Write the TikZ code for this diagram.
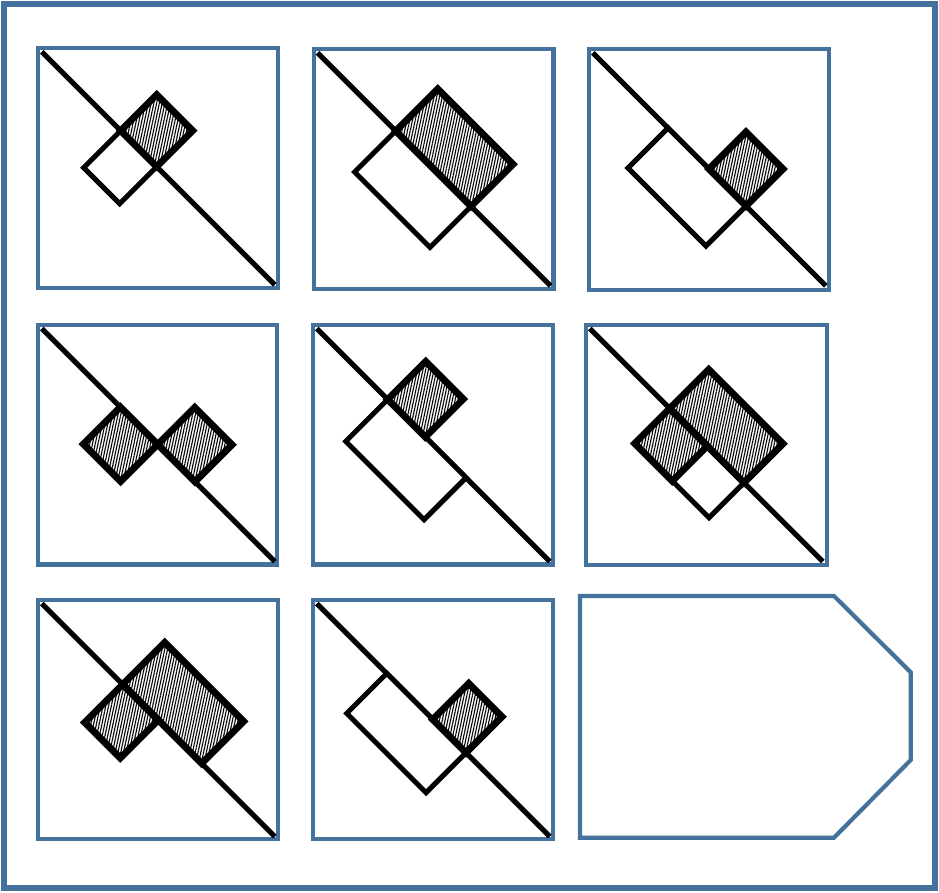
\documentclass[tikz,border=0pt]{standalone}
\usetikzlibrary{patterns.meta}
\definecolor{frameblue}{RGB}{68,114,157}
\tikzset{
  cellbox/.style={draw=frameblue,line width=4.2pt},
  diagline/.style={draw=black,line width=5.2pt,line cap=butt},
  whiteshape/.style={draw=black,fill=white,line width=5pt,line join=miter},
  hatchshape/.style={draw=black,line width=6.8pt,line join=miter,
    pattern={Lines[angle=78,distance=2.7pt,line width=1.1pt]},pattern color=black},
}
% #1 style, #2 start t on diagonal, #3 end t, #4 depth (+ up-right, - down-left)
\newcommand\diagshape[4]{%
  \draw[#1] (#2,#2) -- (#3,#3) -- ++({#4},{-(#4)}) -- ++({#2-#3},{#2-#3}) -- cycle;}
\newcommand\celldiag{\draw[diagline] (3.5,3.5) -- (236.5,236.5);}
\begin{document}
\begin{tikzpicture}[x=1pt,y=-1pt]
\useasboundingbox (0,0) rectangle (939,892);
\node[draw=frameblue,line width=5.5pt,minimum width=931pt,minimum height=884pt,inner sep=0pt] (frame) at (469.5,446) {};

% cell 1
\begin{scope}[shift={(38.3,48.3)}]
  \draw[cellbox] (0,0) rectangle (240,240);
  \celldiag
  \diagshape{whiteshape}{82.4}{118.4}{-37}
  \diagshape{hatchshape}{82.4}{118.4}{36}
\end{scope}
% cell 2
\begin{scope}[shift={(314,49.3)}]
  \draw[cellbox] (0,0) rectangle (239.5,240);
  \celldiag
  \diagshape{whiteshape}{81.7}{157}{-41}
  \diagshape{hatchshape}{81.7}{157}{42}
\end{scope}
% cell 3
\begin{scope}[shift={(589.3,49.3)}]
  \draw[cellbox] (0,0) rectangle (240,241);
  \celldiag
  \diagshape{whiteshape}{78.7}{156.7}{-40}
  \diagshape{hatchshape}{119.7}{156.7}{37}
\end{scope}
% cell 4
\begin{scope}[shift={(38.3,325)}]
  \draw[cellbox] (0,0) rectangle (239,239.5);
  \celldiag
  \diagshape{hatchshape}{82}{119.4}{-37}
  \diagshape{hatchshape}{119.4}{156.7}{37}
\end{scope}
% cell 5
\begin{scope}[shift={(313.3,325)}]
  \draw[cellbox] (0,0) rectangle (240,239.5);
  \celldiag
  \diagshape{whiteshape}{74.4}{152.7}{-42}
  \diagshape{hatchshape}{74.4}{112}{38}
\end{scope}
% cell 6
\begin{scope}[shift={(586.3,325)}]
  \draw[cellbox] (0,0) rectangle (241,240);
  \celldiag
  \diagshape{whiteshape}{121}{157.7}{-35}
  \diagshape{hatchshape}{83.4}{121}{-35}
  \diagshape{hatchshape}{83.4}{157.7}{39}
\end{scope}
% cell 7
\begin{scope}[shift={(38.3,600)}]
  \draw[cellbox] (0,0) rectangle (240,239.3);
  \celldiag
  \diagshape{hatchshape}{84.4}{120}{-38}
  \diagshape{hatchshape}{84.4}{163.4}{42}
\end{scope}
% cell 8
\begin{scope}[shift={(313.3,600)}]
  \draw[cellbox] (0,0) rectangle (240,239.3);
  \celldiag
  \diagshape{whiteshape}{73.4}{152.7}{-40}
  \diagshape{hatchshape}{119.4}{152.7}{36}
\end{scope}
% answer slot
\draw[cellbox,line join=miter] (580,596) -- (834,596) -- (910.7,672.3) -- (910.7,760) -- (834,837.7) -- (580,837.7) -- cycle;
\end{tikzpicture}
\end{document}
